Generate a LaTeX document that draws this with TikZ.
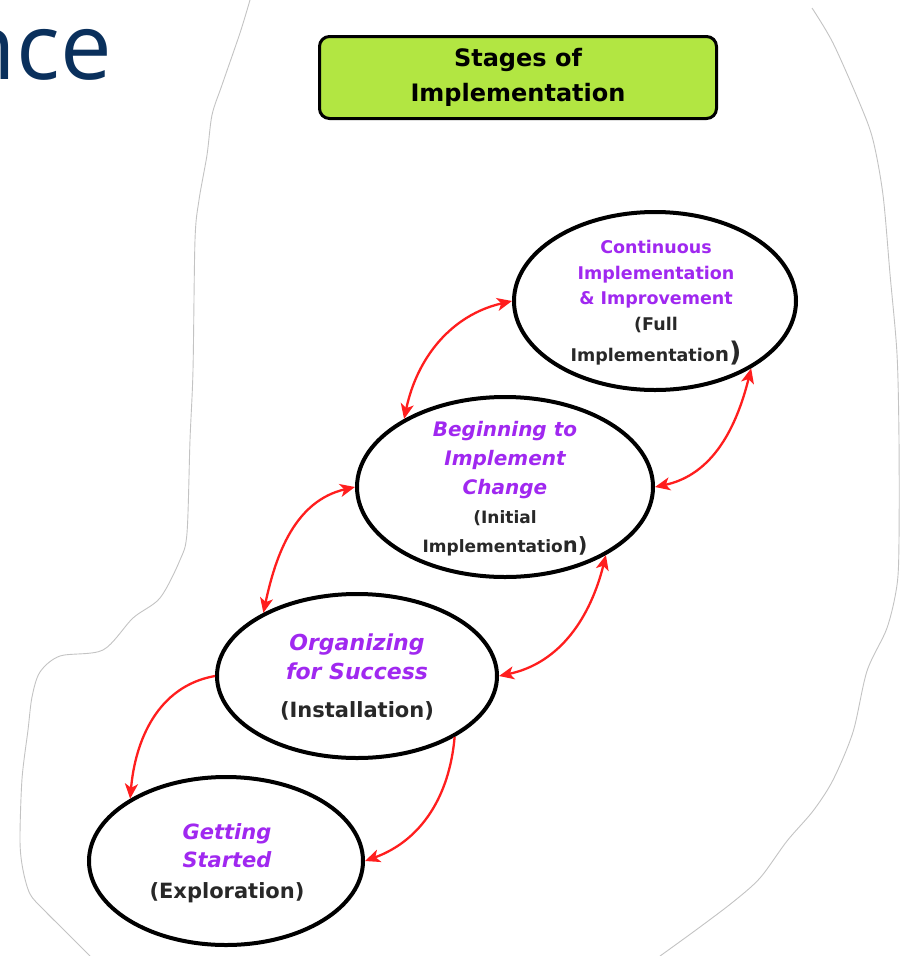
\documentclass[tikz,border=0pt]{standalone}
\usepackage{fontspec}
\setmainfont{DejaVu Sans}
\newfontfamily\navyfont{Open Sans}
\usetikzlibrary{arrows.meta,shapes.geometric}
\definecolor{limeg}{RGB}{178,230,66}
\definecolor{purp}{RGB}{160,40,240}
\definecolor{navy}{RGB}{10,48,92}
\definecolor{outl}{RGB}{195,195,195}
\definecolor{txtgray}{RGB}{40,40,40}
\definecolor{arrred}{RGB}{255,30,30}
\begin{document}
\begin{tikzpicture}[x=1pt,y=1pt,
  stagebox/.style={draw=black, line width=4pt, ellipse, inner sep=0pt, fill=white},
  titlebox/.style={draw=black, line width=3pt, rounded corners=10pt, fill=limeg,
     minimum width=397pt, minimum height=82pt, inner sep=0pt, align=center,
     font=\bfseries\fontsize{24}{35}\selectfont},
  stagetext/.style={align=center, inner sep=0pt, text=purp},
  link/.style={draw=arrred, line width=2.3pt},
  twoway/.style={{Stealth[length=15pt,width=13pt,inset=4pt]}-{Stealth[length=15pt,width=13pt,inset=4pt]}},
  oneway/.style={-{Stealth[length=15pt,width=13pt,inset=4pt]}},
  outline/.style={draw=outl, line width=0.9pt}]
\useasboundingbox (0,0) rectangle (900,-956);

% cut-out outline
\draw[outline] plot[smooth, tension=0.5] coordinates {(250,0) (240,-33) (222,-85) (212,-115) (207,-155) (199,-200) (195,-240) (193,-370) (190,-440) (187,-533) (180,-560) (160,-598) (133,-618) (103,-650) (60,-656) (40,-672) (32,-697) (28,-730) (22,-779) (20,-841) (23,-870) (30,-894) (43,-909) (67,-933) (90,-956)};
\draw[outline] plot[smooth, tension=0.5] coordinates {(812,-8) (833,-43) (860,-104) (873,-140) (883,-195) (890,-274) (897,-354) (899,-440) (899,-540) (897,-585) (887,-628) (867,-671) (853,-732) (833,-780) (813,-811) (787,-841) (760,-878) (733,-902) (700,-927) (667,-951) (660,-956)};

% partial heading (cut at the left edge, as in the reference)
\node[anchor=base east, inner sep=0pt, text=navy, font=\navyfont\fontsize{92}{92}\selectfont] (head) at (112,-79) {nce};

% title
\node[titlebox] (title) at (518,-77.5) {Stages of\\Implementation};

% stages
\node[stagebox, minimum width=282pt, minimum height=178pt] (e4) at (655,-301) {};
\node[stagebox, minimum width=296pt, minimum height=180pt] (e3) at (505,-487) {};
\node[stagebox, minimum width=280pt, minimum height=164pt] (e2) at (357,-676) {};
\node[stagebox, minimum width=274pt, minimum height=168pt] (e1) at (226,-861) {};

\node[stagetext, font=\bfseries\fontsize{17.5}{25.5}\selectfont] (e4t) at (656,-303)
  {Continuous\\Implementation\\\&~Improvement\\{\color{txtgray}(Full}\\[6pt]
   {\color{txtgray}Implementatio{\fontsize{20}{20}\selectfont n}{\fontsize{27}{27}\selectfont )}}};
\node[stagetext, font=\bfseries\fontsize{17}{29}\selectfont] (e3t) at (505,-489)
  {{\itshape\fontsize{20}{28.5}\selectfont Beginning to}\\{\itshape\fontsize{20}{28.5}\selectfont Implement}\\{\itshape\fontsize{20}{28.5}\selectfont Change}\\
   {\color{txtgray}(Initial}\\{\color{txtgray}Implementatio{\fontsize{21}{21}\selectfont n)}}};
\node[stagetext, font=\bfseries\fontsize{22}{29}\selectfont] (e2t) at (357,-677)
  {{\itshape Organizing}\\{\itshape for Success}\\[9pt]{\color{txtgray}\fontsize{21}{21}\selectfont (Installation)}};
\node[stagetext, font=\bfseries\fontsize{21}{28}\selectfont] (e1t) at (227,-863)
  {{\itshape Getting}\\{\itshape Started}\\[3pt]{\color{txtgray}(Exploration)}};

% connectors
\draw[link,twoway] (e3.146) to[out=78,in=193] (e4.west);
\draw[link,twoway] (e3.east) to[out=12,in=256] (e4.-35);
\draw[link,twoway] (e2.146) to[out=78,in=193] (e3.west);
\draw[link,twoway] (e2.east) to[out=12,in=256] (e3.-34);
\draw[link,oneway] (e2.west) to[out=190,in=85] (e1.147);
\draw[link,oneway] (e2.-32) to[out=-95,in=20] (e1.east);
\end{tikzpicture}
\end{document}
